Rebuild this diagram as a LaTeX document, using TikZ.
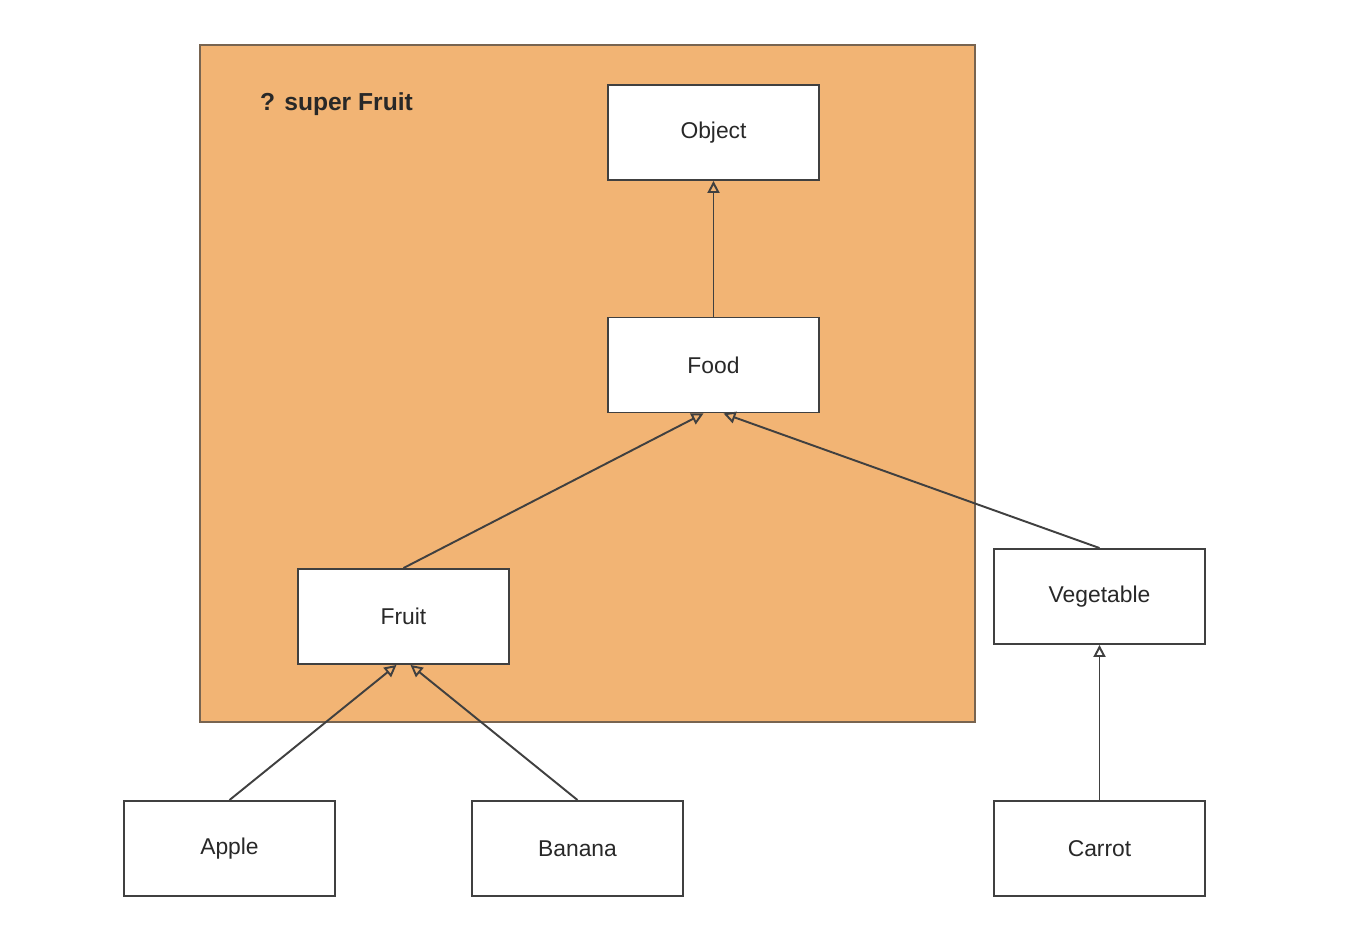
\documentclass[tikz,border=0pt]{standalone}
\usepackage{fontspec}
\setmainfont{Liberation Sans}
\usepackage{tikz}
\usetikzlibrary{arrows.meta,positioning,calc}
\definecolor{boundfill}{RGB}{242,180,116}
\definecolor{boundline}{RGB}{120,100,80}
\definecolor{linegray}{RGB}{64,64,64}
\definecolor{textgray}{RGB}{40,40,40}
\tikzset{
    cls/.style={draw=linegray, fill=white, line width=1.1pt, minimum width=4.22cm, minimum height=1.9cm, inner sep=0pt, text=textgray, font=\fontsize{13}{15}\selectfont},
    isa/.style={-{Triangle[open, length=2.4mm, width=2.4mm]}, line width=1.1pt, draw=linegray},
    bound/.style={draw=boundline, fill=boundfill, line width=1pt}
}

\begin{document}
\begin{tikzpicture}[x=0.02cm, y=-0.02cm]
                \useasboundingbox (0,0) rectangle (1356,928);
                \fill[white] (0,0) rectangle (1356,928);
                \draw[bound] (200,45) rectangle (975,722);
                \node[anchor=west, text=textgray, font=\bfseries\fontsize{14}{16}\selectfont] (lbl) at (254,104) {? super Fruit};
                \node[cls] (object) at (713.5,132.5) {Object};
                \node[cls] (food) at (713.5,365) {Food};
                \node[cls] (fruit) at (403.5,616.5) {Fruit};
                \node[cls] (veg) at (1099.5,596.5) {Vegetable};
                \node[cls] (apple) at (229.5,848.5) {Apple};
                \node[cls] (banana) at (577.5,848.5) {Banana};
                \node[cls] (carrot) at (1099.5,848.5) {Carrot};
                \draw[isa] (food) -- (object);
                \draw[isa] (fruit.north) -- ([xshift=-0.2cm]food.south);
                \draw[isa] (veg.north) -- ([xshift=0.2cm]food.south);
                \draw[isa] (apple.north) -- ([xshift=-0.14cm]fruit.south);
                \draw[isa] (banana.north) -- ([xshift=0.14cm]fruit.south);
                \draw[isa] (carrot) -- (veg);
            \end{tikzpicture}
\end{document}
